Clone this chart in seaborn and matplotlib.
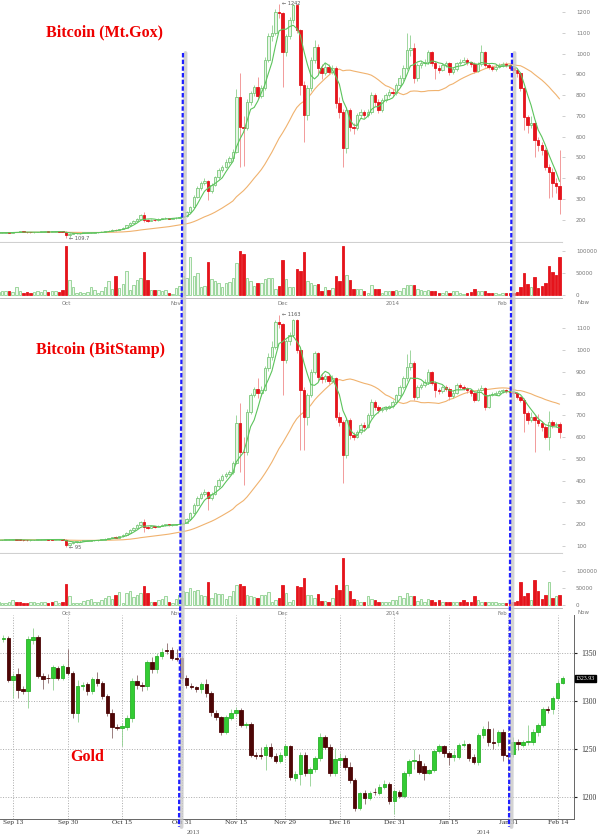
import numpy as np
import pandas as pd
import seaborn as sns
import matplotlib.pyplot as plt
from matplotlib.lines import Line2D
from matplotlib.transforms import blended_transform_factory

# ---- bitcoin, daily 2013-09-12 .. 2014-02-17 ----
btc_dates = pd.date_range("2013-09-12", "2014-02-17", freq="D")

gox_first_open = 135
gox_close = [136, 137, 138, 137, 139, 140, 141, 140, 139, 138,
             139, 140, 141, 142, 141, 142, 143, 142, 141, 125,
             131, 133, 134, 135, 135, 136, 137, 138, 139, 141,
             144, 147, 151, 149, 155, 160, 172, 185, 195, 205,
             222, 198, 194, 200, 197, 203, 206, 208, 205, 207,
             210, 212, 216, 235, 262, 310, 350, 375, 385, 340,
             367, 405, 440, 455, 480, 495, 528, 793, 648, 640,
             769, 809, 838, 798, 835, 970, 1083, 1099, 1203, 1195,
             1010, 1083, 1163, 1235, 1115, 850, 705, 833, 970, 1034,
             930, 906, 938, 914, 930, 761, 721, 544, 729, 648,
             640, 705, 721, 705, 721, 801, 769, 730, 777, 801,
             817, 809, 850, 882, 930, 1018, 1026, 882, 946, 954,
             962, 1010, 954, 930, 922, 946, 954, 910, 925, 954,
             962, 970, 958, 950, 918, 950, 1010, 946, 935, 925,
             938, 946, 950, 944, 932, 920, 906, 833, 696, 656,
             664, 584, 560, 536, 455, 431, 375, 360, 300]
gox_high = [138, 139, 140, 140, 141, 142, 143, 143, 142, 141,
            141, 142, 143, 144, 144, 144, 145, 146, 144, 143,
            133, 135, 136, 137, 137, 138, 139, 140, 141, 143,
            146, 149, 153, 156, 157, 163, 175, 188, 199, 210,
            228, 236, 203, 204, 203, 206, 209, 211, 210, 210,
            213, 215, 220, 240, 268, 318, 360, 385, 400, 392,
            375, 412, 448, 465, 490, 505, 540, 830, 905, 700,
            780, 820, 850, 889, 850, 985, 1100, 1140, 1215, 1242,
            1200, 1095, 1175, 1240, 1240, 1120, 870, 850, 985, 1066,
            1045, 950, 955, 950, 945, 940, 790, 735, 745, 740,
            665, 715, 735, 730, 735, 815, 810, 780, 785, 810,
            828, 830, 858, 895, 945, 1099, 1090, 1050, 955, 965,
            975, 1020, 1015, 965, 945, 955, 965, 960, 935, 962,
            975, 985, 980, 965, 958, 960, 1040, 1015, 955, 945,
            948, 955, 960, 958, 950, 940, 928, 912, 840, 705,
            700, 672, 600, 575, 545, 470, 450, 400, 536]
gox_low = [134, 135, 136, 135, 136, 138, 139, 138, 137, 136,
           137, 138, 139, 140, 139, 140, 141, 140, 139, 110,
           118, 129, 131, 132, 133, 134, 135, 136, 137, 138,
           140, 143, 146, 146, 148, 154, 158, 170, 183, 193,
           203, 190, 188, 192, 194, 195, 201, 204, 202, 203,
           205, 208, 210, 214, 232, 258, 305, 345, 368, 295,
           330, 360, 398, 430, 448, 470, 485, 520, 455, 460,
           630, 755, 795, 780, 785, 825, 960, 1060, 1090, 1170,
           841, 990, 1070, 1150, 1100, 800, 576, 680, 820, 955,
           900, 880, 895, 900, 900, 740, 690, 455, 520, 625,
           615, 630, 690, 690, 695, 710, 750, 715, 720, 765,
           790, 795, 800, 840, 870, 920, 990, 860, 870, 930,
           940, 950, 940, 880, 905, 915, 935, 895, 900, 918,
           945, 955, 945, 935, 905, 910, 940, 935, 925, 915,
           918, 930, 938, 935, 920, 905, 890, 820, 632, 620,
           640, 504, 530, 510, 440, 303, 310, 330, 225]
gox_vol = [7, 8, 9, 8, 6, 18, 9, 5, 6, 5,
           7, 8, 6, 11, 7, 9, 8, 6, 12, 111,
           34, 17, 5, 6, 5, 6, 17, 11, 5, 9,
           17, 31, 13, 42, 15, 25, 55, 11, 22, 34,
           38, 97, 35, 11, 11, 12, 9, 12, 5, 3,
           15, 20, 44, 38, 86, 42, 49, 17, 21, 75,
           36, 31, 28, 19, 26, 30, 38, 72, 100, 92,
           38, 31, 21, 26, 28, 36, 38, 38, 13, 20,
           80, 37, 19, 17, 59, 54, 98, 31, 28, 22,
           25, 9, 17, 11, 15, 42, 32, 111, 46, 35,
           14, 13, 13, 9, 5, 23, 13, 13, 5, 9,
           9, 9, 11, 8, 15, 23, 23, 23, 14, 11,
           9, 11, 9, 8, 5, 5, 9, 5, 8, 8,
           5, 3, 5, 7, 13, 9, 8, 9, 5, 5,
           4, 3, 4, 5, 4, 5, 6, 17, 49, 25,
           18, 40, 15, 21, 28, 66, 51, 45, 86]

stamp_first_open = 126
stamp_close = [127, 128, 128, 129, 130, 129, 128, 127, 126, 127,
               128, 129, 130, 131, 130, 129, 130, 131, 130, 105,
               112, 118, 121, 123, 124, 125, 126, 127, 128, 130,
               133, 137, 141, 139, 145, 150, 162, 175, 185, 195,
               210, 188, 184, 190, 188, 193, 196, 198, 196, 198,
               200, 203, 207, 225, 250, 290, 320, 340, 350, 319,
               340, 375, 405, 420, 430, 440, 480, 667, 533, 530,
               717, 794, 820, 801, 817, 916, 970, 1016, 1131, 1120,
               954, 1040, 1070, 1138, 1000, 817, 694, 794, 901, 985,
               878, 868, 880, 860, 870, 694, 671, 518, 679, 610,
               602, 625, 656, 645, 700, 763, 740, 725, 728, 735,
               742, 763, 794, 830, 870, 924, 940, 786, 832, 840,
               855, 901, 850, 817, 812, 830, 822, 790, 805, 840,
               830, 825, 815, 801, 771, 817, 825, 740, 794, 800,
               805, 810, 815, 811, 807, 803, 783, 771, 710, 679,
               694, 679, 664, 648, 602, 671, 656, 660, 625]
stamp_high = [129, 130, 130, 131, 132, 132, 131, 130, 129, 129,
              130, 131, 132, 133, 133, 132, 132, 133, 133, 132,
              115, 120, 123, 125, 126, 127, 128, 129, 130, 132,
              135, 139, 143, 146, 147, 153, 165, 178, 189, 200,
              216, 222, 193, 194, 194, 196, 199, 201, 201, 201,
              203, 206, 211, 230, 256, 298, 330, 350, 362, 355,
              348, 382, 412, 430, 440, 450, 492, 700, 755, 600,
              730, 805, 830, 870, 835, 925, 985, 1040, 1140, 1163,
              1125, 1050, 1085, 1145, 1142, 1005, 830, 805, 912, 995,
              990, 895, 892, 890, 885, 878, 715, 680, 690, 688,
              625, 635, 665, 668, 710, 775, 770, 748, 738, 742,
              750, 770, 800, 840, 880, 980, 1000, 950, 840, 850,
              865, 912, 905, 860, 828, 838, 840, 830, 815, 848,
              848, 838, 832, 822, 808, 825, 838, 830, 800, 808,
              812, 818, 822, 822, 818, 815, 808, 790, 778, 720,
              715, 700, 705, 675, 655, 720, 680, 672, 668]
stamp_low = [125, 126, 126, 127, 128, 127, 126, 125, 124, 125,
             126, 127, 128, 129, 128, 127, 128, 129, 128, 95,
             100, 110, 116, 119, 121, 122, 123, 124, 125, 126,
             129, 132, 135, 136, 138, 143, 148, 160, 173, 183,
             193, 165, 178, 182, 185, 186, 191, 194, 193, 194,
             196, 198, 201, 205, 222, 246, 285, 315, 332, 266,
             310, 335, 368, 398, 412, 425, 432, 475, 441, 380,
             520, 705, 785, 780, 790, 810, 905, 955, 1005, 1100,
             794, 940, 1025, 1060, 985, 541, 541, 656, 785, 890,
             860, 850, 855, 845, 850, 680, 650, 388, 505, 590,
             585, 595, 615, 630, 640, 690, 725, 712, 715, 720,
             728, 735, 755, 785, 820, 860, 910, 770, 775, 820,
             830, 845, 840, 786, 800, 805, 812, 772, 782, 798,
             820, 815, 805, 790, 760, 765, 810, 725, 735, 788,
             795, 800, 805, 802, 798, 795, 775, 760, 625, 660,
             670, 533, 650, 630, 590, 541, 640, 645, 595]
stamp_vol = [8, 6, 7, 9, 15, 8, 9, 7, 6, 8,
             9, 7, 10, 8, 7, 9, 11, 7, 9, 62,
             26, 6, 6, 7, 13, 15, 18, 8, 10, 15,
             20, 26, 17, 29, 37, 6, 34, 41, 23, 30,
             35, 55, 34, 10, 10, 15, 17, 25, 8, 6,
             17, 29, 41, 39, 48, 41, 43, 30, 25, 67,
             20, 36, 32, 31, 17, 26, 40, 58, 62, 55,
             29, 25, 22, 20, 28, 29, 37, 10, 15, 20,
             59, 34, 10, 15, 55, 53, 79, 28, 28, 20,
             31, 13, 13, 9, 20, 58, 43, 136, 58, 40,
             17, 15, 10, 8, 27, 17, 15, 8, 8, 8,
             10, 15, 15, 25, 20, 34, 26, 26, 13, 17,
             10, 17, 15, 10, 15, 8, 10, 9, 10, 8,
             10, 15, 8, 10, 25, 15, 10, 9, 10, 8,
             9, 6, 6, 6, 8, 10, 12, 67, 25, 35,
             15, 72, 41, 17, 29, 67, 20, 26, 28]

btc_ticks = ["2013-10-01", "2013-11-01", "2013-12-01", "2014-01-01", "2014-02-01"]
btc_tick_labels = ["Oct", "Nov", "Dec", "2014", "Feb"]

# ---- gold, business days 2013-09-11 .. 2014-02-17 ----
gold_dates = pd.bdate_range("2013-09-11", "2014-02-17")
gold_open = [1364.5, 1365.6, 1322.2, 1328.1, 1312.8, 1311.1, 1363.9, 1367.3, 1326.7, 1324.6,
             1323.9, 1335.0, 1324.6, 1336.1, 1329.8, 1288.2, 1316.3, 1317.7, 1311.1, 1323.2,
             1319.4, 1305.9, 1288.2, 1273.6, 1272.5, 1273.5, 1283.0, 1321.1, 1317.0, 1315.9,
             1340.6, 1333.6, 1347.2, 1353.4, 1353.1, 1345.5, 1344.8, 1323.9, 1316.3, 1315.2,
             1312.5, 1318.0, 1308.3, 1288.2, 1283.3, 1268.4, 1283.0, 1287.5, 1290.9, 1275.3,
             1276.4, 1244.1, 1243.8, 1244.1, 1252.1, 1243.4, 1238.2, 1244.1, 1253.4, 1220.5,
             1224.3, 1244.1, 1225.7, 1229.2, 1240.6, 1262.8, 1252.8, 1225.0, 1238.9, 1241.3,
             1231.2, 1218.0, 1188.5, 1204.1, 1198.9, 1205.9, 1204.8, 1211.1, 1213.9, 1196.1,
             1205.9, 1201.7, 1225.0, 1238.2, 1238.2, 1232.6, 1225.7, 1228.5, 1248.6, 1253.4,
             1245.8, 1242.3, 1242.3, 1254.5, 1255.2, 1242.3, 1237.1, 1264.9, 1270.8, 1257.6,
             1257.3, 1267.7, 1244.1, 1245.1, 1258.0, 1254.5, 1257.5, 1258.0, 1267.7, 1275.3,
             1292.0, 1291.6, 1303.1, 1319.4]
gold_close = [1365.6, 1322.2, 1326.7, 1311.8, 1311.1, 1364.5, 1366.6, 1326.7, 1322.9, 1323.9,
              1335.4, 1324.6, 1336.8, 1329.8, 1288.2, 1316.3, 1317.0, 1311.1, 1323.2, 1319.4,
              1305.9, 1288.2, 1272.9, 1272.6, 1274.0, 1283.0, 1321.1, 1317.0, 1315.9, 1340.6,
              1333.6, 1347.2, 1351.0, 1352.8, 1345.5, 1344.4, 1323.9, 1316.6, 1315.2, 1312.5,
              1318.0, 1308.3, 1289.2, 1283.3, 1268.4, 1283.3, 1287.5, 1290.9, 1275.3, 1276.0,
              1244.1, 1243.4, 1243.1, 1252.1, 1243.4, 1238.2, 1244.1, 1253.4, 1220.8, 1223.9,
              1244.1, 1225.0, 1229.2, 1240.6, 1262.8, 1252.8, 1225.0, 1239.5, 1241.3, 1231.2,
              1218.0, 1188.5, 1204.1, 1198.9, 1204.8, 1205.2, 1211.1, 1213.9, 1196.1, 1206.6,
              1201.7, 1225.0, 1237.5, 1238.9, 1226.7, 1225.7, 1228.5, 1248.6, 1253.4, 1245.8,
              1242.3, 1244.0, 1254.5, 1255.5, 1241.3, 1237.1, 1264.9, 1270.8, 1257.3, 1257.0,
              1267.7, 1244.1, 1243.0, 1257.3, 1255.2, 1258.0, 1258.3, 1267.7, 1275.3, 1291.6,
              1291.4, 1303.1, 1319.4, 1323.93]
gold_high = [1369, 1368, 1330, 1335, 1316, 1368, 1376, 1369, 1329, 1328,
             1338, 1337, 1339, 1354, 1332, 1322, 1320, 1320, 1325, 1331,
             1321, 1308, 1292, 1276, 1277, 1286, 1324, 1327, 1320, 1343,
             1346, 1350, 1356, 1361, 1357, 1355, 1347, 1327, 1319, 1316,
             1320, 1323, 1311, 1291, 1285, 1286, 1292, 1294, 1293, 1279,
             1278, 1247, 1252, 1256, 1257, 1246, 1247, 1256, 1255, 1227,
             1247, 1247, 1232, 1243, 1267, 1265, 1256, 1251, 1246, 1244,
             1237, 1220, 1206, 1208, 1207, 1210, 1214, 1218, 1216, 1209,
             1208, 1227, 1240, 1250, 1245, 1236, 1230, 1250, 1256, 1255,
             1248, 1249, 1257, 1260, 1257, 1245, 1267, 1274, 1280, 1272,
             1270, 1271, 1247, 1263, 1261, 1260, 1275, 1271, 1277, 1294,
             1295, 1306, 1322, 1326]
gold_low = [1362, 1320, 1304, 1304, 1308, 1293, 1360, 1324, 1313, 1319,
            1312, 1322, 1322, 1327, 1283, 1278, 1312, 1307, 1308, 1316,
            1302, 1285, 1262, 1270, 1253, 1270, 1279, 1313, 1311, 1312,
            1330, 1330, 1344, 1349, 1343, 1342, 1321, 1314, 1313, 1310,
            1309, 1305, 1285, 1281, 1265, 1266, 1281, 1285, 1273, 1272,
            1242, 1240, 1240, 1228, 1241, 1236, 1236, 1242, 1218, 1217,
            1213, 1222, 1212, 1226, 1238, 1250, 1222, 1222, 1233, 1228,
            1215, 1186, 1187, 1193, 1197, 1203, 1202, 1209, 1193, 1183,
            1199, 1199, 1222, 1230, 1224, 1218, 1224, 1226, 1246, 1242,
            1234, 1238, 1240, 1252, 1238, 1235, 1234, 1262, 1254, 1250,
            1254, 1238, 1238, 1242, 1249, 1252, 1255, 1255, 1264, 1273,
            1288, 1287, 1301, 1318]
gold_tick_dates = ["2013-09-13", "2013-09-30", "2013-10-15", "2013-10-31", "2013-11-15",
                   "2013-11-29", "2013-12-16", "2013-12-31", "2014-01-15", "2014-01-31",
                   "2014-02-14"]

RED = "#e5141c"
W, H = 600, 835


def box(x0, y0, x1, y1):
    return [x0 / W, 1 - y1 / H, (x1 - x0) / W, (y1 - y0) / H]


def candles(ax, x, o, h, l, c, up, dn, width=0.7, min_body=0.5):
    o, h, l, c = (np.asarray(v, dtype=float) for v in (o, h, l, c))
    rise = c >= o
    lo = np.minimum(o, c)
    body = np.maximum(np.abs(c - o), min_body)
    for m, (face, edge, wick) in ((rise, up), (~rise, dn)):
        ax.vlines(x[m], np.minimum(l[m], lo[m]), np.maximum(h[m], lo[m] + body[m]),
                  color=wick, lw=0.6, zorder=2)
        ax.bar(x[m], body[m], bottom=lo[m], width=width, color=face,
               edgecolor=edge, linewidth=0.6, zorder=3)
    return rise


sns.set_style("white")
plt.rcParams["font.family"] = ["DejaVu Sans"]

fig = plt.figure(figsize=(6, 8.35), dpi=100)
ax1 = fig.add_axes(box(0, 0, 562, 242))
axv1 = fig.add_axes(box(0, 243, 562, 298))
ax2 = fig.add_axes(box(0, 307, 562, 553))
axv2 = fig.add_axes(box(0, 554, 562, 608))
axg = fig.add_axes(box(0, 615, 574, 819))

bx = np.arange(len(btc_dates))
btc_tick_pos = [btc_dates.get_loc(pd.Timestamp(d)) for d in btc_ticks]
up_btc = ("#e6f5e6", "#79c879", "#8fd08f")
dn_btc = (RED, RED, "#f08a8a")

panels = [
    (ax1, axv1, gox_first_open, gox_close, gox_high, gox_low, gox_vol,
     (92, 1259), range(200, 1201, 100), (-7000, 118000)),
    (ax2, axv2, stamp_first_open, stamp_close, stamp_high, stamp_low, stamp_vol,
     (68, 1198), range(100, 1101, 100), (-8600, 148000)),
]
for ax, axv, first, close, high, low, vol, ylim, yt, vlim in panels:
    opn = np.r_[first, close[:-1]]
    rise = candles(ax, bx, opn, high, low, close, up_btc, dn_btc, min_body=3)
    ma = pd.DataFrame({"x": bx,
                       "fast": pd.Series(close).rolling(5, min_periods=1).mean(),
                       "slow": pd.Series(close).rolling(30, min_periods=1).mean()})
    sns.lineplot(data=ma, x="x", y="slow", ax=ax, color="#f0b26e", lw=0.8, zorder=1)
    sns.lineplot(data=ma, x="x", y="fast", ax=ax, color="#5cc45c", lw=0.8, zorder=4)
    ax.set_ylim(*ylim)
    ax.set_yticks(list(yt))

    v = np.asarray(vol) * 1000
    axv.bar(bx[rise], v[rise], width=0.7, color="#eef8ee", edgecolor="#8fd08f", linewidth=0.6)
    axv.bar(bx[~rise], v[~rise], width=0.7, color=RED, edgecolor=RED, linewidth=0.6)
    axv.set_ylim(*vlim)
    axv.set_yticks([0, 50000, 100000])
    axv.set_yticklabels(["0", "50000", "100000"])
    axv.set_xticks(btc_tick_pos)
    axv.set_xticklabels(btc_tick_labels)
    ax.set_xticks([])

    for a in (ax, axv):
        a.set_xlim(0.42, 158.7)
        a.set_xlabel("")
        a.set_ylabel("")
        for s in a.spines.values():
            s.set_visible(False)
        a.yaxis.tick_right()
        a.tick_params(axis="y", length=2, width=0.5, color="#bbbbbb",
                      labelsize=4, labelcolor="#777777", pad=8)
    axv.tick_params(axis="x", length=0, labelsize=4, labelcolor="#777777", pad=2)
    ax.spines["bottom"].set_visible(True)
    ax.spines["bottom"].set_color("#d0d0d0")
    axv.spines["bottom"].set_visible(True)
    axv.spines["bottom"].set_color("#b0b0b0")
    axv.spines["bottom"].set_linewidth(0.6)

# extreme price markers
ax1.text(79.8, 1242, "\u2190 1242", fontsize=3.6, color="#555555", va="center")
ax1.text(19.8, 110, "\u2190 109.7", fontsize=3.6, color="#555555", va="center")
ax2.text(79.8, 1163, "\u2190 1163", fontsize=3.6, color="#555555", va="center")
ax2.text(19.8, 95, "\u2190 95", fontsize=3.6, color="#555555", va="center")
for yy in (302, 613):
    fig.text(583 / W, 1 - yy / H, "Now", fontsize=4, color="#777777", ha="center", va="center")

# gold panel
gx = np.arange(len(gold_dates))
candles(axg, gx, gold_open, gold_high, gold_low, gold_close,
        ("#33cc33", "#2bb02b", "#8fd08f"), ("#4d0606", "#4d0606", "#8a6a6a"), min_body=0.6)
gold_tick_pos = [gold_dates.get_loc(pd.Timestamp(d)) for d in gold_tick_dates]
axg.set_xticks(gold_tick_pos)
axg.set_xticklabels([pd.Timestamp(d).strftime("%b %d") for d in gold_tick_dates],
                    family="Liberation Serif")
axg.set_xlim(-0.67, 115.3)
axg.set_ylim(1177.5, 1389.9)
axg.set_yticks([1200, 1250, 1300, 1350])
axg.set_yticklabels(["1200", "1250", "1300", "1350"], family="Liberation Serif")
axg.yaxis.tick_right()
axg.grid(True, ls=":", color="#aaaaaa", lw=0.7)
axg.set_axisbelow(True)
for side in ("left", "top"):
    axg.spines[side].set_visible(False)
for side in ("right", "bottom"):
    axg.spines[side].set_color("#666666")
    axg.spines[side].set_linewidth(0.7)
axg.tick_params(axis="x", direction="in", length=2, width=0.5, color="#666666",
                labelsize=5.3, labelcolor="#333333", pad=0.8)
axg.tick_params(axis="y", length=2, width=0.8, color="#222222", labelsize=5.5,
                labelcolor="#333333", pad=3)
trans = blended_transform_factory(axg.transAxes, axg.transData)
axg.text(1.003, gold_close[-1], f"{gold_close[-1]:.2f}", transform=trans, fontsize=4.2,
         color="white", va="center", ha="left", family="Liberation Serif",
         bbox=dict(boxstyle="square,pad=0.12", fc="black", ec="black"))
trans_x = blended_transform_factory(axg.transData, axg.transAxes)
for yr, pos in (("2013", 38.3), ("2014", 96.9)):
    axg.text(pos, -0.064, yr, transform=trans_x, fontsize=4.8, color="#555555",
             ha="center", va="center", family="Liberation Serif")

# red captions
for txt, cx, cy in (("Bitcoin (Mt.Gox)", 105, 32), ("Bitcoin (BitStamp)", 100, 350), ("Gold", 87, 757)):
    fig.text(cx / W, 1 - cy / H, txt, ha="center", va="center", fontsize=11.5,
             fontweight="bold", color="#ee0000", family="Liberation Serif")

# blue dashed markers across all panels
for xa, xb in ((183, 179), (512, 509)):
    fig.add_artist(Line2D([(xa + 2.5) / W, (xb + 2.5) / W], [1 - 53 / H, 1 - 827 / H],
                          color="#c8c8c8", lw=2.8, alpha=0.8))
    fig.add_artist(Line2D([xa / W, xb / W], [1 - 53 / H, 1 - 827 / H],
                          color="#1f1fff", lw=1.6, ls=(0, (2, 1))))

fig.savefig("out.png", dpi=100)
